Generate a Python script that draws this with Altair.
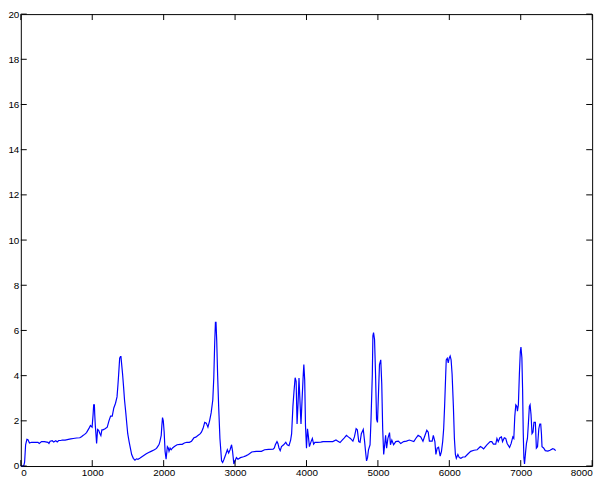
import altair as alt
import pandas as pd

# Curve
xs = [0, 40, 53, 67, 85, 100, 121, 150, 200, 240, 258, 290, 330, 380, 394, 410, 440, 460, 490, 510,
      530, 560, 580, 620, 666, 700, 734, 780, 826, 849, 870, 894, 920, 940, 960, 975, 998, 1005, 1012, 1020,
      1030, 1035, 1043, 1053, 1061, 1068, 1075, 1090, 1105, 1121, 1135, 1150, 1180, 1210, 1234, 1257, 1280, 1302, 1326, 1347,
      1360, 1370, 1384, 1395, 1402, 1412, 1425, 1439, 1452, 1470, 1484, 1497, 1516, 1534, 1552, 1575, 1598, 1620, 1640, 1665,
      1711, 1757, 1790, 1824, 1870, 1900, 1916, 1935, 1947, 1966, 1975, 1984, 1995, 2007, 2020, 2034, 2045, 2052, 2065, 2075,
      2090, 2105, 2125, 2150, 2188, 2230, 2260, 2290, 2324, 2360, 2390, 2424, 2450, 2484, 2510, 2529, 2552, 2575, 2597, 2620,
      2643, 2665, 2688, 2702, 2715, 2725, 2733, 2743, 2756, 2770, 2788, 2811, 2826, 2845, 2869, 2892, 2910, 2930, 2951, 2965,
      2983, 2995, 3019, 3040, 3075, 3119, 3150, 3187, 3233, 3300, 3369, 3414, 3470, 3533, 3550, 3564, 3587, 3600, 3615, 3632,
      3650, 3680, 3710, 3730, 3755, 3778, 3792, 3810, 3825, 3841, 3855, 3868, 3882, 3895, 3909, 3923, 3937, 3955, 3963, 3975,
      3986, 4000, 4014, 4027, 4041, 4064, 4082, 4100, 4118, 4150, 4200, 4232, 4300, 4368, 4413, 4440, 4470, 4500, 4530, 4559,
      4590, 4615, 4650, 4672, 4695, 4712, 4732, 4750, 4768, 4795, 4814, 4827, 4841, 4855, 4868, 4890, 4903, 4922, 4930, 4939,
      4953, 4967, 4981, 4994, 5008, 5022, 5040, 5054, 5067, 5081, 5095, 5108, 5122, 5140, 5163, 5176, 5195, 5220, 5250, 5286,
      5320, 5360, 5400, 5440, 5503, 5530, 5563, 5600, 5631, 5660, 5685, 5705, 5721, 5760, 5776, 5798, 5812, 5830, 5850, 5860,
      5872, 5890, 5907, 5921, 5934, 5948, 5957, 5971, 5985, 5998, 6012, 6025, 6039, 6057, 6071, 6085, 6098, 6120, 6140, 6162,
      6190, 6220, 6253, 6299, 6345, 6390, 6435, 6458, 6480, 6526, 6572, 6595, 6617, 6650, 6667, 6685, 6708, 6730, 6745, 6770,
      6790, 6810, 6844, 6866, 6889, 6903, 6917, 6931, 6945, 6954, 6967, 6981, 6994, 7003, 7016, 7026, 7035, 7044, 7053, 7067,
      7080, 7094, 7108, 7121, 7131, 7144, 7158, 7172, 7185, 7205, 7219, 7235, 7253, 7267, 7280, 7290, 7298, 7320, 7344, 7380,
      7410, 7448, 7470, 7489]
ys = [0, 0, 0.17, 0.94, 1.18, 1.16, 1.02, 1.05, 1.05, 1.05, 1.0, 1.08, 1.08, 1.05, 1.0, 1.1, 1.12, 1.06, 1.12, 1.07,
      1.13, 1.13, 1.15, 1.15, 1.18, 1.2, 1.22, 1.24, 1.25, 1.3, 1.35, 1.4, 1.48, 1.59, 1.7, 1.79, 1.72, 2.0, 2.28, 2.71,
      2.71, 2.28, 1.79, 1.36, 1.0, 1.3, 1.62, 1.58, 1.45, 1.35, 1.6, 1.6, 1.65, 1.72, 2.0, 2.21, 2.21, 2.57, 2.78, 3.06,
      3.6, 4.06, 4.77, 4.84, 4.84, 4.5, 4.06, 3.49, 2.92, 2.35, 1.86, 1.43, 1.08, 0.79, 0.51, 0.34, 0.26, 0.32, 0.3, 0.34,
      0.44, 0.54, 0.6, 0.65, 0.72, 0.78, 0.86, 0.95, 1.08, 1.36, 1.8, 2.14, 2.0, 1.5, 0.65, 0.3, 0.65, 0.86, 0.8, 0.65,
      0.79, 0.72, 0.8, 0.86, 0.94, 0.96, 0.96, 1.02, 1.05, 1.05, 1.1, 1.25, 1.28, 1.36, 1.42, 1.5, 1.67, 1.93, 1.9, 1.72,
      2.0, 2.35, 2.92, 3.91, 5.48, 6.36, 6.36, 5.55, 4.0, 2.64, 1.22, 0.23, 0.16, 0.3, 0.51, 0.72, 0.58, 0.72, 0.94, 0.65,
      0.09, 0.2, 0.37, 0.3, 0.37, 0.41, 0.45, 0.51, 0.62, 0.65, 0.65, 0.72, 0.74, 0.75, 0.8, 0.94, 1.08, 1.0, 0.8, 0.68,
      0.86, 0.94, 1.05, 0.94, 0.9, 1.15, 1.43, 2.64, 3.3, 3.91, 3.75, 1.86, 2.78, 3.89, 2.85, 1.86, 2.85, 4.06, 4.49, 3.8,
      1.79, 0.79, 1.65, 1.3, 0.86, 1.08, 1.22, 0.97, 1.05, 1.05, 1.06, 1.08, 1.08, 1.08, 1.15, 1.1, 1.04, 1.15, 1.25, 1.36,
      1.28, 1.22, 1.1, 1.3, 1.65, 1.6, 1.08, 1.05, 1.43, 1.62, 1.08, 0.65, 0.23, 0.37, 0.72, 0.94, 2.0, 4.06, 5.76, 5.9,
      5.6, 4.06, 2.07, 1.93, 3.2, 4.49, 4.7, 3.63, 1.65, 0.51, 0.94, 1.36, 0.79, 1.22, 1.48, 0.94, 1.15, 0.94, 1.08, 1.1,
      1.0, 1.08, 1.1, 1.15, 1.08, 1.22, 1.36, 1.29, 1.1, 1.36, 1.58, 1.5, 1.1, 1.1, 1.36, 1.08, 0.51, 0.79, 0.83, 0.65,
      0.44, 0.65, 1.08, 1.65, 2.64, 3.91, 4.7, 4.77, 4.56, 4.77, 4.87, 4.7, 4.06, 2.64, 1.22, 0.51, 0.34, 0.51, 0.37, 0.34,
      0.4, 0.4, 0.51, 0.65, 0.7, 0.72, 0.86, 0.82, 0.76, 0.94, 1.08, 1.08, 0.97, 0.97, 1.22, 1.08, 1.25, 1.29, 1.08, 1.25,
      1.22, 1.0, 0.82, 1.0, 1.29, 1.22, 2.21, 2.71, 2.65, 2.43, 2.71, 4.06, 5.05, 5.26, 4.8, 3.42, 1.5, 0.37, 0.09, 0.58,
      1.0, 1.22, 1.93, 2.64, 2.71, 2.28, 1.43, 1.5, 1.93, 1.93, 0.79, 0.85, 1.65, 1.86, 1.86, 1.43, 0.86, 0.8, 0.68, 0.66,
      0.7, 0.77, 0.74, 0.68]

x_ticks = [0, 1000, 2000, 3000, 4000, 5000, 6000, 7000, 8000]
y_ticks = [0, 2, 4, 6, 8, 10, 12, 14, 16, 18, 20]

W, H = 579, 458
TL = 6  # inward tick length

df = pd.DataFrame({"x": xs, "y": ys})
xt = pd.DataFrame({"x": x_ticks})
yt = pd.DataFrame({"y": y_ticks})

xscale = alt.Scale(domain=[0, 8000], nice=False, zero=False)
yscale = alt.Scale(domain=[0, 20], nice=False, zero=False)
xaxis = alt.Axis(values=x_ticks, title=None, ticks=False, domain=False, grid=False,
                 labelPadding=2, labelFontSize=10, labelColor="black", format="d")
yaxis = alt.Axis(values=y_ticks, title=None, ticks=False, domain=False, grid=False,
                 labelPadding=2, labelFontSize=10, labelColor="black", format="d")

X = alt.X("x:Q", scale=xscale, axis=xaxis)
Y = alt.Y("y:Q", scale=yscale, axis=yaxis)

line = alt.Chart(df).mark_line(color="#0000ff", strokeWidth=1.2, interpolate="linear").encode(x=X, y=Y)

bottom = alt.Chart(xt).mark_rule(color="black", strokeWidth=1).encode(
    x=X, y=alt.value(H), y2=alt.value(H - TL))
top = alt.Chart(xt).mark_rule(color="black", strokeWidth=1).encode(
    x=X, y=alt.value(0), y2=alt.value(TL))
left = alt.Chart(yt).mark_rule(color="black", strokeWidth=1).encode(
    y=Y, x=alt.value(0), x2=alt.value(TL))
right = alt.Chart(yt).mark_rule(color="black", strokeWidth=1).encode(
    y=Y, x=alt.value(W), x2=alt.value(W - TL))

chart = alt.layer(line, bottom, top, left, right).properties(
    width=W, height=H,
    autosize=alt.AutoSizeParams(type="none"),
    padding={"left": 13, "top": 3, "right": 11, "bottom": 13},
    background="white",
).configure_view(stroke="black", strokeWidth=1).configure_axis(
    labelFont="Liberation Sans"
)

chart.save("out.html", embed_options={"renderer": "svg", "actions": False})
